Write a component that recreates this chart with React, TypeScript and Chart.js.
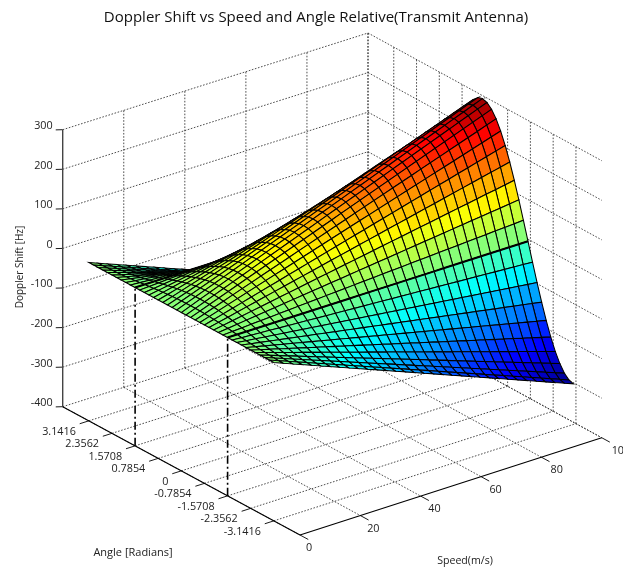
import React, { useEffect, useRef } from "react";
import { Chart, registerables } from "chart.js";

Chart.register(...registerables);

const speeds = [0, 3.1, 6.2, 9.3, 12.4, 15.5, 18.6, 21.7, 24.8, 27.9, 31, 34.1, 37.2, 40.3, 43.4, 46.5, 49.6, 52.7, 55.8, 58.9, 62, 65.1, 68.2, 71.3, 74.4, 77.5, 80.6, 83.7, 86.8, 89.9, 93, 96.1, 99.2];
const peakShift = [0, 9.3, 18.6, 27.9, 37.2, 46.5, 55.8, 65.1, 74.4, 83.7, 93, 102.3, 111.6, 120.9, 130.2, 139.5, 148.8, 158.1, 167.4, 176.7, 186, 195.3, 204.6, 213.9, 223.2, 232.5, 241.8, 251.1, 260.4, 269.7, 279, 288.3, 297.6];
const angles = [-3.1416, -2.9845, -2.8274, -2.6704, -2.5133, -2.3562, -2.1991, -2.042, -1.885, -1.7279, -1.5708, -1.4137, -1.2566, -1.0996, -0.9425, -0.7854, -0.6283, -0.4712, -0.3142, -0.1571, 0, 0.1571, 0.3142, 0.4712, 0.6283, 0.7854, 0.9425, 1.0996, 1.2566, 1.4137, 1.5708, 1.7279, 1.885, 2.042, 2.1991, 2.3562, 2.5133, 2.6704, 2.8274, 2.9845, 3.1416];
const angleFactor = [-1, -0.9877, -0.9511, -0.891, -0.809, -0.7071, -0.5878, -0.454, -0.309, -0.1564, 0, 0.1564, 0.309, 0.454, 0.5878, 0.7071, 0.809, 0.891, 0.9511, 0.9877, 1, 0.9877, 0.9511, 0.891, 0.809, 0.7071, 0.5878, 0.454, 0.309, 0.1564, 0, -0.1564, -0.309, -0.454, -0.5878, -0.7071, -0.809, -0.891, -0.9511, -0.9877, -1];

const speedTicks = [0, 20, 40, 60, 80, 100];
const angleTicks = [3.1416, 2.3562, 1.5708, 0.7854, 0, -0.7854, -1.5708, -2.3562, -3.1416];
const angleTickLabels = ["3.1416", "2.3562", "1.5708", "0.7854", "0", "-0.7854", "-1.5708", "-2.3562", "-3.1416"];
const shiftTicks = [300, 200, 100, 0, -100, -200, -300, -400];
const markerAngles = [1.5708, -1.5708];

const TITLE = "Doppler Shift vs Speed and Angle Relative(Transmit Antenna)";
const Y_LABEL = "Doppler Shift [Hz]";
const ANGLE_LABEL = "Angle [Radians]";
const SPEED_LABEL = "Speed(m/s)";

const FONT = '"Open Sans", "Noto Sans", sans-serif';
const A = 4.03;
const Z0 = -400;
const Z1 = 300;
const CLIM = 310;

// Projected corners of the axes' floor, and the height of the box.
const C = {
  left: [62.7, 406.7],
  front: [300, 535],
  right: [601.7, 437.7],
  back: [368, 310],
  h: 277,
};

function project(speed: number, angle: number, z: number) {
  const u = speed / 100;
  const v = (angle + A) / (2 * A);
  const w = (z - Z0) / (Z1 - Z0);
  const lerp = (k: number) =>
    (1 - u) * ((1 - v) * C.front[k] + v * C.left[k]) + u * ((1 - v) * C.right[k] + v * C.back[k]);
  return { x: lerp(0), y: lerp(1) - w * C.h };
}

function jet(value: number) {
  let t = (value + CLIM) / (2 * CLIM);
  t = Math.min(63, Math.floor(t * 64)) / 63;
  const ramp = (c: number) => Math.max(0, Math.min(1, 1.5 - Math.abs(4 * t - c)));
  const to = (n: number) => Math.round(n * 255);
  return `rgb(${to(ramp(3))},${to(ramp(2))},${to(ramp(1))})`;
}

function makeDatasets() {
  const line = (points: { x: number; y: number }[], color: string, width: number, dash: number[] = []) => ({
    data: points,
    borderColor: color,
    borderWidth: width,
    borderDash: dash,
    pointRadius: 0,
    fill: false,
    tension: 0,
    clip: false,
  });
  const grid = (a: { x: number; y: number }, b: { x: number; y: number }) => line([a, b], "#222", 0.8, [1.6, 1.6]);

  const front: any[] = [];
  const back: any[] = [];

  // marker droplines
  markerAngles.forEach((a) => {
    front.push(line([project(0, a, Z0), project(0, a, 0)], "#000", 1.6, [8, 3, 2, 3]));
  });

  // axes + ticks
  front.push(line([project(0, A, Z0), project(0, -A, Z0)], "#000", 1.1));
  front.push(line([project(0, -A, Z0), project(100, -A, Z0)], "#000", 1.1));
  front.push(line([project(0, A, Z0), project(0, A, Z1)], "#444", 1.4));
  speedTicks.forEach((s) => front.push(line([project(s, -A, Z0), project(s, -A - 0.28, Z0)], "#000", 0.9)));
  angleTicks.forEach((a) => front.push(line([project(0, a, Z0), project(-3, a, Z0)], "#000", 0.9)));
  shiftTicks.forEach((z) => front.push(line([project(0, A, z), project(-1.5, A + 0.08, z)], "#000", 0.9)));

  // surface: front-most cells come first, since Chart.js paints the last dataset first
  for (let i = 0; i < speeds.length - 1; i++) {
    for (let j = 0; j < angles.length - 1; j++) {
      const p = (a: number, b: number) => project(speeds[a], angles[b], peakShift[a] * angleFactor[b]);
      markerAngles.forEach((m) => {
        if (Math.abs(angles[j + 1] - m) < 1e-6) {
          front.push(line([project(speeds[i], m, 0), project(speeds[i + 1], m, 0)], "#000", 2));
        }
      });
      const corners = [p(i, j), p(i + 1, j), p(i + 1, j + 1), p(i, j + 1), p(i, j)];
      front.push({
        data: corners,
        borderColor: "#000",
        borderWidth: 1.05,
        backgroundColor: jet(peakShift[i] * angleFactor[j]),
        fill: "shape",
        pointRadius: 0,
        tension: 0,
        clip: false,
      });
    }
  }

  // walls and floor
  shiftTicks.forEach((z) => {
    back.push(grid(project(0, A, z), project(100, A, z)));
    back.push(grid(project(100, A, z), project(100, -A, z)));
  });
  speedTicks.forEach((s) => {
    if (s > 0) back.push(grid(project(s, A, Z0), project(s, A, Z1)));
    back.push(grid(project(s, A, Z0), project(s, -A, Z0)));
  });
  angleTicks.forEach((a) => {
    back.push(grid(project(100, a, Z0), project(100, a, Z1)));
    back.push(grid(project(0, a, Z0), project(100, a, Z0)));
  });
  back.push(grid(project(100, A, Z0), project(100, A, Z1)));

  return [...front, ...back];
}

const textPlugin = {
  id: "axisText",
  afterDraw(chart: any) {
    const { ctx, scales } = chart;
    const px = (p: { x: number; y: number }) => ({
      x: scales.x.getPixelForValue(p.x),
      y: scales.y.getPixelForValue(p.y),
    });
    const put = (s: string, x: number, y: number, align: CanvasTextAlign, size = 10.8, rot = 0) => {
      ctx.save();
      ctx.translate(x, y);
      ctx.rotate(rot);
      ctx.font = `${size}px ${FONT}`;
      ctx.fillStyle = "#222";
      ctx.textAlign = align;
      ctx.textBaseline = "middle";
      ctx.fillText(s, 0, 0);
      ctx.restore();
    };
    ctx.save();
    shiftTicks.forEach((z) => {
      const p = px(project(0, A, z));
      put(String(z), p.x - 10, p.y - 3.7, "right");
    });
    angleTicks.forEach((a, k) => {
      const p = px(project(0, a, Z0));
      put(angleTickLabels[k], p.x - 13, p.y + 11, "right");
    });
    speedTicks.forEach((s) => {
      const p = px(project(s, -A, Z0));
      put(String(s), p.x + 6 + s * 0.04, p.y + 13, "left");
    });
    put(Y_LABEL, 20, 267, "center", 10, -Math.PI / 2);
    put(ANGLE_LABEL, 133, 553, "center", 11);
    put(SPEED_LABEL, 465, 560.5, "center", 10.6);
    ctx.restore();
  },
};

export default function App() {
  const ref = useRef<HTMLCanvasElement>(null);
  useEffect(() => {
    if (!ref.current) return;
    const chart = new Chart(ref.current, {
      type: "line",
      data: { datasets: makeDatasets() },
      options: {
        animation: false,
        responsive: false,
        devicePixelRatio: 1,
        events: [],
        layout: { padding: { left: 9 } },
        scales: {
          x: { type: "linear", display: false, min: 9, max: 623 },
          y: { type: "linear", display: false, reverse: true, min: 40, max: 567 },
        },
        plugins: {
          legend: { display: false },
          tooltip: { enabled: false },
          title: {
            display: true,
            text: TITLE,
            color: "#111",
            font: { family: FONT, size: 15, weight: "normal", lineHeight: 1.2 },
            padding: { top: 9, bottom: 13 },
          },
        },
      },
      plugins: [textPlugin],
    } as any);
    return () => chart.destroy();
  }, []);
  return (
    <canvas
      ref={ref}
      width={623}
      height={567}
      style={{ position: "absolute", left: 0, top: 0, width: 623, height: 567 }}
    />
  );
}
